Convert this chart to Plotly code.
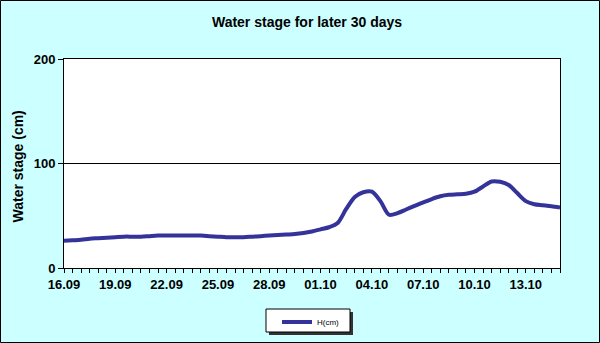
import plotly.graph_objects as go

# ---- data (every 12 h, 16.09 00:00 -> 15.10 00:00) ----
water_stage = [26, 26.5, 27, 28, 28.5, 29, 29.5, 30, 30, 30,
               30.5, 31, 31, 31, 31, 31, 31, 30.5, 30, 29.5,
               29.5, 29.5, 30, 30.5, 31, 31.5, 32, 32.5, 33.5, 35,
               37, 39, 43, 56.5, 68, 72.5, 73, 64, 51, 52.5,
               56, 59.5, 62.8, 66, 68.6, 70, 70.5, 71, 73, 78,
               82.8, 82.5, 79.4, 71.7, 64, 61, 60, 59, 57.8]
tick_labels = ["16.09", "19.09", "22.09", "25.09", "28.09", "01.10",
               "04.10", "07.10", "10.10", "13.10"]
label_every = 6
series_name = "H(cm)"
y_title = "Water stage (cm)"
chart_title = "Water stage for later 30 days"

FONT = "Arial, 'Liberation Sans', sans-serif"
W, H = 600, 343
L, R, T, B = 64, 40, 59, 75
PW, PH = W - L - R, H - T - B


def px(x):
    return (x - L) / PW


def py(y):
    return (H - B - y) / PH


n = len(water_stage)
xs = list(range(n))
ticktext = [f"<b>{tick_labels[i // label_every]}</b>"
            if i % label_every == 0 and i // label_every < len(tick_labels) else ""
            for i in xs]

fig = go.Figure()
fig.add_trace(go.Scatter(
    x=xs, y=water_stage, mode="lines", name=series_name,
    line=dict(color="#333399", width=4, shape="spline", smoothing=0.8),
    showlegend=True,
))

shapes = [
    # outer chart border
    dict(type="rect", xref="paper", yref="paper",
         x0=px(0.5), x1=px(W - 0.5), y0=py(H - 0.5), y1=py(0.5),
         line=dict(color="black", width=1), layer="below"),
    # legend shadow
    dict(type="rect", xref="paper", yref="paper",
         x0=px(269), x1=px(353), y0=py(335), y1=py(312),
         fillcolor="#333333", line=dict(width=0), layer="above"),
    # legend box
    dict(type="rect", xref="paper", yref="paper",
         x0=px(266), x1=px(350), y0=py(332), y1=py(309),
         fillcolor="white", line=dict(color="black", width=1), layer="above"),
]

fig.update_layout(
    width=W, height=H,
    margin=dict(l=L, r=R, t=T, b=B, autoexpand=False),
    paper_bgcolor="#CCFFFF",
    plot_bgcolor="white",
    font=dict(family=FONT, color="black", size=13),
    title=dict(text=f"<b>{chart_title}</b>", x=px(307), xref="paper",
               xanchor="center", y=1 - 22 / H, yref="container", yanchor="middle",
               font=dict(size=14, family=FONT, color="black")),
    showlegend=True,
    legend=dict(x=px(277), y=py(322), xanchor="left", yanchor="middle",
                bgcolor="rgba(0,0,0,0)", borderwidth=0,
                font=dict(size=8, family=FONT, color="black"), itemwidth=30),
    shapes=shapes,
    annotations=[dict(text=f"<b>{y_title}</b>", xref="paper", yref="paper",
                      x=px(17.5), y=py(167), textangle=-90, showarrow=False,
                      xanchor="center", yanchor="middle",
                      font=dict(size=14, family=FONT, color="black"))],
)

fig.update_xaxes(
    range=[0, n - 1], tickmode="array", tickvals=xs, ticktext=ticktext,
    ticks="outside", ticklen=4, tickcolor="black", tickwidth=1,
    showline=True, linecolor="black", linewidth=1, mirror=True,
    showgrid=False, zeroline=False,
    tickfont=dict(size=13, family=FONT), tickangle=0,
    automargin=False,
)
fig.update_yaxes(
    range=[0, 200], tickvals=[0, 100, 200], ticktext=["<b>0</b>", "<b>100</b>", "<b>200</b>"],
    ticks="outside", ticklen=5, tickcolor="black",
    showline=True, linecolor="black", linewidth=1, mirror=True,
    showgrid=True, gridcolor="black", gridwidth=1, zeroline=False,
    tickfont=dict(size=13, family=FONT),
    automargin=False,
)

fig.write_html("out.html")
